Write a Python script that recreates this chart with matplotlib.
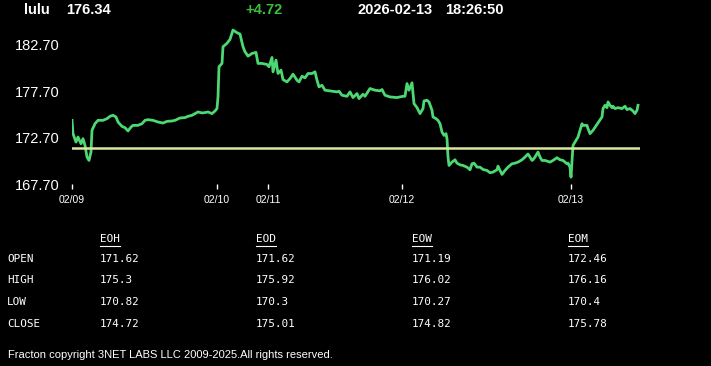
import matplotlib
matplotlib.use("Agg")
import matplotlib.pyplot as plt
from matplotlib.lines import Line2D

# header
symbol = "lulu"
last_price = "176.34"
change = "+4.72"
stamp_date = "2026-02-13"
stamp_time = "18:26:50"

# intraday trace (sample index, price)
idx = [0, 1, 4, 6, 9, 11, 13, 15, 17, 19, 20, 23, 26, 31, 35, 38, 41, 44, 46, 50,
       53, 56, 59, 61, 66, 70, 73, 76, 81, 86, 91, 95, 100, 103, 108, 113, 116, 120, 123, 126,
       130, 133, 136, 140, 143, 145, 146, 147, 150, 151, 155, 158, 161, 165, 168, 171, 173, 176, 180, 184,
       186, 190, 195, 197, 200, 201, 204, 206, 209, 211, 215, 218, 221, 225, 227, 230, 233, 236, 240, 243,
       245, 247, 250, 253, 258, 265, 267, 270, 275, 278, 281, 285, 287, 291, 293, 298, 303, 308, 310, 313,
       318, 325, 331, 333, 335, 337, 340, 342, 345, 348, 351, 352, 355, 357, 360, 361, 364, 366, 368, 370,
       372, 374, 375, 376, 377, 380, 383, 385, 388, 391, 395, 398, 400, 402, 405, 408, 411, 415, 418, 421,
       425, 426, 428, 430, 433, 436, 440, 443, 446, 450, 453, 456, 458, 460, 461, 463, 466, 468, 470, 473,
       478, 481, 485, 488, 491, 495, 496, 498, 499, 500, 501, 504, 506, 508, 510, 511, 515, 516, 518, 521,
       525, 528, 530, 531, 533, 535, 536, 538, 540, 541, 543, 546, 550, 553, 555, 558, 561, 563, 565, 566]
price = [174.58, 173.15, 172.25, 172.79, 172.07, 172.61, 171.89, 170.64, 170.28, 171.18, 173.51, 174.22, 174.58, 174.58, 174.76, 175.01, 175.12, 174.94, 174.40, 173.93,
         173.79, 173.44, 173.86, 174.04, 174.04, 174.22, 174.58, 174.65, 174.58, 174.40, 174.29, 174.47, 174.51, 174.58, 174.83, 174.87, 175.01, 175.12, 175.30, 175.48,
         175.37, 175.41, 175.48, 175.30, 175.58, 175.84, 177.09, 180.32, 180.68, 182.47, 182.84, 183.26, 184.26, 183.97, 183.83, 182.47, 181.93, 181.46, 181.75, 181.86,
         180.68, 180.68, 180.57, 180.32, 181.32, 179.78, 181.03, 179.60, 179.96, 178.95, 178.70, 179.06, 179.53, 178.88, 178.70, 179.31, 179.13, 179.60, 179.60, 179.78,
         178.88, 178.17, 178.34, 177.81, 177.74, 177.63, 177.70, 177.27, 177.16, 177.63, 177.02, 177.45, 176.91, 177.38, 177.16, 177.99, 177.81, 177.74, 177.88, 177.27,
         177.09, 177.02, 177.16, 177.16, 178.52, 177.81, 178.60, 176.37, 175.94, 175.30, 175.84, 176.66, 176.73, 176.55, 175.66, 174.94, 174.76, 174.58, 174.22, 173.33,
         172.97, 173.15, 172.61, 170.67, 169.74, 170.10, 170.35, 169.99, 169.81, 169.74, 169.56, 169.28, 169.92, 169.99, 169.56, 169.56, 169.31, 169.21, 168.96, 169.03,
         169.28, 169.67, 169.21, 168.78, 169.21, 169.56, 169.92, 169.99, 170.10, 170.35, 170.64, 170.97, 170.64, 170.28, 170.35, 170.64, 171.18, 170.64, 170.28, 170.28,
         170.10, 170.28, 170.57, 170.35, 170.28, 169.92, 169.99, 169.56, 168.49, 170.28, 171.89, 172.43, 172.79, 173.51, 174.22, 174.04, 174.04, 173.69, 173.15, 173.51,
         174.15, 174.65, 174.94, 175.84, 176.19, 175.94, 176.55, 176.19, 175.94, 176.09, 175.84, 175.94, 175.84, 176.09, 175.73, 175.84, 175.58, 175.30, 175.66, 176.19]

prev_close = 171.62
day_ticks = [0, 145, 196, 330, 499]
day_labels = ["02/09", "02/10", "02/11", "02/12", "02/13"]
y_ticks = [167.70, 172.70, 177.70, 182.70]

# summary table
row_labels = ["OPEN", "HIGH", "LOW", "CLOSE"]
col_labels = ["EOH", "EOD", "EOW", "EOM"]
table = [["171.62", "171.62", "171.19", "172.46"],
         ["175.3", "175.92", "176.02", "176.16"],
         ["170.82", "170.3", "170.27", "170.4"],
         ["174.72", "175.01", "174.82", "175.78"]]

W, H = 711, 366
fig = plt.figure(figsize=(W / 100, H / 100), dpi=100, facecolor="black")

def fx(px):
    return px / W

def fy(py):
    return 1 - py / H

# price panel
ax = fig.add_axes([fx(72), fy(184.5), fx(568), (184.5 - 27.8) / H])
ax.set_facecolor("black")
ax.plot(idx, price, color="#4cd872", linewidth=2.0, solid_joinstyle="round")
ax.plot([0, 568], [prev_close, prev_close], color="#d6e89c", linewidth=1.8)
ax.set_xlim(0, 568)
ax.set_ylim(167.7, 184.5)
for s in ax.spines.values():
    s.set_visible(False)
ax.set_yticks(y_ticks)
ax.set_yticklabels([f"{v:.2f}" for v in y_ticks])
ax.tick_params(axis="y", length=0, pad=9, labelsize=10.5, labelcolor="white")
ax.set_xticks(day_ticks)
ax.set_xticklabels(day_labels)
ax.tick_params(axis="x", length=3.5, width=1, color="white", pad=4,
               labelsize=7.5, labelcolor="white")
for t in ax.get_yticklabels() + ax.get_xticklabels():
    t.set_family("Liberation Sans")

# header line
hdr = dict(color="white", fontsize=10.5, fontweight="bold", family="Liberation Sans",
           va="center", ha="left")
fig.text(fx(24), fy(10), symbol, **hdr)
fig.text(fx(66), fy(10), last_price, **hdr)
fig.text(fx(245), fy(10), change, **{**hdr, "color": "#3cbe3c"})
fig.text(fx(358), fy(10), stamp_date, **hdr)
fig.text(fx(445), fy(10), stamp_time, **hdr)

# table
mono = dict(color="white", fontsize=7.9, family="DejaVu Sans Mono", va="center", ha="left")
col_x = [100, 256, 412, 568]
for j, lab in enumerate(col_labels):
    fig.text(fx(col_x[j]), fy(239), lab, **mono)
    fig.add_artist(Line2D([fx(col_x[j]), fx(col_x[j] + 20)], [fy(245.5), fy(245.5)],
                          color="white", linewidth=0.8))
row_y = [259, 280, 302, 324]
for i, lab in enumerate(row_labels):
    fig.text(fx(7), fy(row_y[i]), lab, **mono)
    for j in range(4):
        fig.text(fx(col_x[j]), fy(row_y[i]), table[i][j], **mono)

fig.text(fx(8), fy(355), "Fracton copyright 3NET LABS LLC 2009-2025.All rights reserved.",
         color="white", fontsize=8.0, family="Liberation Sans", va="center", ha="left")

fig.savefig("out.png", dpi=100, facecolor="black")
